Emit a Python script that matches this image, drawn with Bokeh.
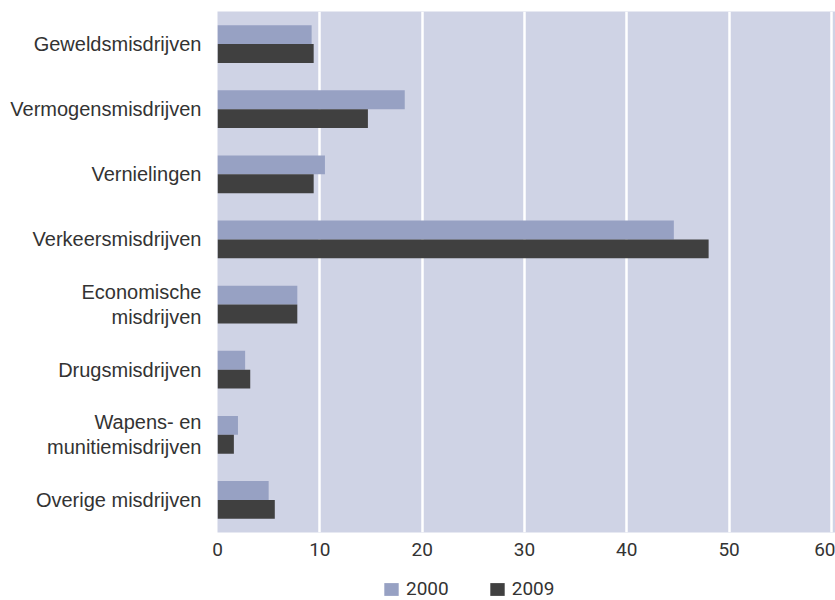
from bokeh.plotting import figure
from bokeh.layouts import column
from bokeh.models import FactorRange, Range1d, Legend, LegendItem, FixedTicker, ColumnDataSource
from bokeh.transform import dodge
from bokeh.embed import file_html
from bokeh.resources import INLINE

categories = ["Geweldsmisdrijven", "Vermogensmisdrijven", "Vernielingen",
              "Verkeersmisdrijven", "Economische\nmisdrijven", "Drugsmisdrijven",
              "Wapens- en\nmunitiemisdrijven", "Overige misdrijven"]
values_2000 = [9.2, 18.3, 10.5, 44.6, 7.8, 2.7, 2.0, 5.0]
values_2009 = [9.4, 14.7, 9.4, 48.0, 7.8, 3.2, 1.6, 5.6]
series = ["2000", "2009"]
x_ticks = [0, 10, 20, 30, 40, 50, 60]

LIGHT = "#97A1C3"
DARK = "#404040"
BG = "#CFD3E5"
NUM_FONT = "Roboto"
TXT = "#333333"

src = ColumnDataSource(dict(cat=categories, v2000=values_2000, v2009=values_2009))

p = figure(width=835, height=565, output_backend="svg", toolbar_location=None,
           y_range=FactorRange(factors=list(reversed(categories)), range_padding=0),
           x_range=Range1d(0, 60.4),
           min_border_left=217, min_border_right=0, min_border_top=11, min_border_bottom=33)

r1 = p.hbar(y=dodge("cat", 0.145, range=p.y_range), right="v2000", left=0, height=0.29,
            source=src, fill_color=LIGHT, line_color=None)
r2 = p.hbar(y=dodge("cat", -0.145, range=p.y_range), right="v2009", left=0, height=0.29,
            source=src, fill_color=DARK, line_color=None)

p.background_fill_color = BG
p.border_fill_color = "white"
p.outline_line_color = None

p.xgrid.grid_line_color = "white"
p.xgrid.grid_line_width = 2.5
p.ygrid.grid_line_color = None

p.xaxis.ticker = FixedTicker(ticks=x_ticks)
p.xaxis.axis_line_color = None
p.xaxis.major_tick_line_color = None
p.xaxis.minor_tick_line_color = None
p.xaxis.major_label_text_font = NUM_FONT
p.xaxis.major_label_text_font_size = "19px"
p.xaxis.major_label_text_color = TXT
p.xaxis.major_label_standoff = 4

p.yaxis.axis_line_color = None
p.yaxis.major_tick_line_color = None
p.yaxis.minor_tick_line_color = None
p.yaxis.major_label_text_font = "Liberation Sans"
p.yaxis.major_label_text_font_size = "20px"
p.yaxis.major_label_text_color = TXT
p.yaxis.major_label_text_line_height = 1.15
p.yaxis.major_label_standoff = 10

# legend in its own strip below the chart; its bars use the same data but lie out of view
p2 = figure(width=835, height=35, output_backend="svg", toolbar_location=None,
            x_range=Range1d(-2, -1), y_range=FactorRange(factors=list(reversed(categories))),
            x_axis_type=None, y_axis_type=None,
            min_border_left=0, min_border_right=0, min_border_top=0, min_border_bottom=0)
p2.outline_line_color = None
p2.xgrid.grid_line_color = None
p2.ygrid.grid_line_color = None
l1 = p2.hbar(y="cat", right="v2000", left=0, height=0.29, source=src,
             fill_color=LIGHT, line_color=None)
l2 = p2.hbar(y="cat", right="v2009", left=0, height=0.29, source=src,
             fill_color=DARK, line_color=None)

legend = Legend(items=[LegendItem(label=series[0], renderers=[l1]),
                       LegendItem(label=series[1], renderers=[l2])],
                orientation="horizontal", location=(165, 0),
                glyph_width=18, glyph_height=16, spacing=39, padding=0, margin=0,
                label_text_font=NUM_FONT, label_text_font_size="19px",
                label_text_color=TXT, label_standoff=6, label_height=16,
                border_line_color=None, background_fill_alpha=0)
p2.add_layout(legend, "center")

layout = column(p, p2, spacing=0)
open("out.html", "w").write(file_html(layout, INLINE))
